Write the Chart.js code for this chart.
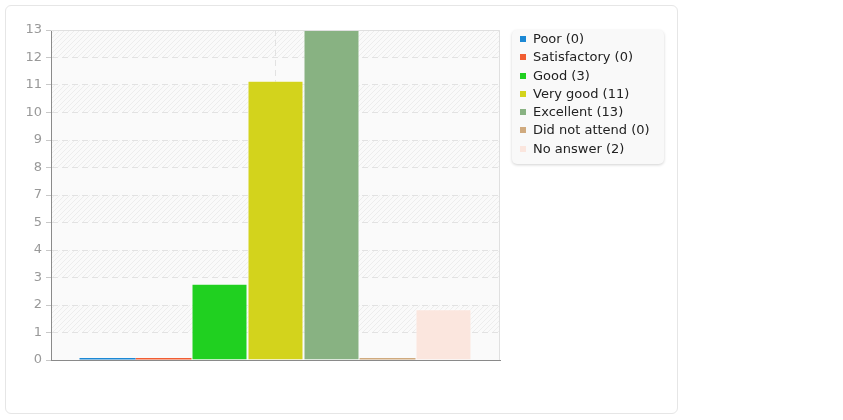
<!DOCTYPE html>
<html>
<head>
<meta charset="utf-8">
<script src="https://cdn.jsdelivr.net/npm/chart.js@4/dist/chart.umd.min.js"></script>
<style>
  html, body { margin: 0; padding: 0; background: #fff; }
  body { width: 843px; height: 420px; position: relative; font-family: 'DejaVu Sans', sans-serif; }
  .card {
    position: absolute; left: 5px; top: 5px; width: 671px; height: 407px;
    border: 1px solid #e6e6e6; border-radius: 6px; background: #fff;
  }
  #chartWrap { position: absolute; left: 0; top: 0; width: 510px; height: 400px; }
  .legend {
    position: absolute; left: 512px; top: 30px; width: 136px;
    padding: 0 8px 6px 8px; background: #f9f9f9; border-radius: 5px;
    box-shadow: 0 1px 3px rgba(0, 0, 0, 0.18);
    font-size: 13px; color: #222; line-height: 18.3px;
  }
  .legend div { white-space: nowrap; }
  .legend span.box {
    display: inline-block; width: 6px; height: 6px; margin-right: 7px; vertical-align: 1px;
  }
</style>
</head>
<body>
<div class="card"></div>
<div id="chartWrap"><canvas id="ratingChart"></canvas></div>
<div class="legend" id="legend"></div>
<script>
const answerLabels = ['Poor', 'Satisfactory', 'Good', 'Very good', 'Excellent', 'Did not attend', 'No answer'];
const answerCounts = [0, 0, 3, 11, 13, 0, 2];
const answerColors = ['#1c88d4', '#f15d32', '#20d020', '#d3d31c', '#88b282', '#d0aa7e', '#fbe6de'];
const yTickLabels = ['0', '1', '2', '3', '4', '5', '7', '8', '9', '10', '11', '12', '13'];
const yMax = 13;

(() => {
  const legend = document.getElementById('legend');
  answerLabels.forEach((label, i) => {
    const row = document.createElement('div');
    row.innerHTML = `<span class="box" style="background:${answerColors[i]}"></span>${label} (${answerCounts[i]})`;
    legend.appendChild(row);
  });

  const makeHatch = () => {
    const c = document.createElement('canvas');
    c.width = 5; c.height = 5;
    const g = c.getContext('2d');
    g.strokeStyle = 'rgba(0,0,0,0.05)';
    g.lineWidth = 1;
    g.beginPath();
    g.moveTo(0, 5); g.lineTo(5, 0);
    g.moveTo(-1, 1); g.lineTo(1, -1);
    g.moveTo(4, 6); g.lineTo(6, 4);
    g.stroke();
    return c;
  };

  const plotBackground = {
    id: 'plotBackground',
    beforeDraw(chart) {
      const { ctx, chartArea: a, scales } = chart;
      const pattern = ctx.createPattern(makeHatch(), 'repeat');
      ctx.save();
      ctx.fillStyle = '#fafafa';
      ctx.fillRect(a.left, a.top, a.right - a.left, a.bottom - a.top);
      const ticks = scales.y.ticks;
      for (let i = ticks.length - 1; i > 0; i--) {
        const band = ticks.length - 1 - i;
        if (band % 2 !== 0) continue;
        const y1 = scales.y.getPixelForValue(ticks[i].value);
        const y2 = scales.y.getPixelForValue(ticks[i - 1].value);
        ctx.fillStyle = pattern;
        ctx.fillRect(a.left, y1, a.right - a.left, y2 - y1);
      }
      ctx.restore();
    },
    afterDraw(chart) {
      const { ctx, chartArea: a } = chart;
      ctx.save();
      ctx.strokeStyle = '#e0e0e0';
      ctx.lineWidth = 1;
      ctx.beginPath();
      ctx.moveTo(a.left, a.top + 0.5);
      ctx.lineTo(a.right - 0.5, a.top + 0.5);
      ctx.lineTo(a.right - 0.5, a.bottom);
      ctx.stroke();
      ctx.restore();
    },
  };

  new Chart(document.getElementById('ratingChart'), {
    type: 'bar',
    data: {
      labels: [''],
      datasets: answerLabels.map((label, i) => ({
        label,
        data: [answerCounts[i]],
        backgroundColor: answerColors[i],
        borderColor: 'rgba(255,255,255,0.55)',
        borderWidth: answerCounts[i] ? 1 : 0,
        minBarLength: 2,
        barPercentage: 1,
        categoryPercentage: 0.873,
      })),
    },
    options: {
      responsive: true,
      maintainAspectRatio: false,
      animation: false,
      layout: { padding: { top: 30, right: 10, left: 0, bottom: 0 } },
      plugins: {
        legend: { display: false },
        tooltip: { enabled: false },
      },
      scales: {
        x: {
          afterFit: (scale) => { scale.height = 40; },
          ticks: { display: false },
          grid: {
            offset: false,
            color: '#e2e2e2',
            drawTicks: false,
          },
          border: { color: '#8a8a8a', width: 1, dash: [6, 4] },
        },
        y: {
          min: 0,
          max: yMax,
          afterFit: (scale) => { scale.width = 51; },
          afterBuildTicks: (scale) => {
            scale.ticks = yTickLabels.map((_, i) => ({ value: yMax * i / (yTickLabels.length - 1) }));
          },
          ticks: {
            color: '#999',
            font: { family: 'DejaVu Sans', size: 13 },
            padding: 4,
            callback: (value, index) => yTickLabels[index],
          },
          grid: {
            color: '#e2e2e2',
            tickColor: '#c8c8c8',
            tickBorderDash: [],
            tickLength: 5,
          },
          border: { color: '#8a8a8a', width: 1, dash: [6, 4] },
        },
      },
    },
    plugins: [plotBackground],
  });
})();
</script>
</body>
</html>
